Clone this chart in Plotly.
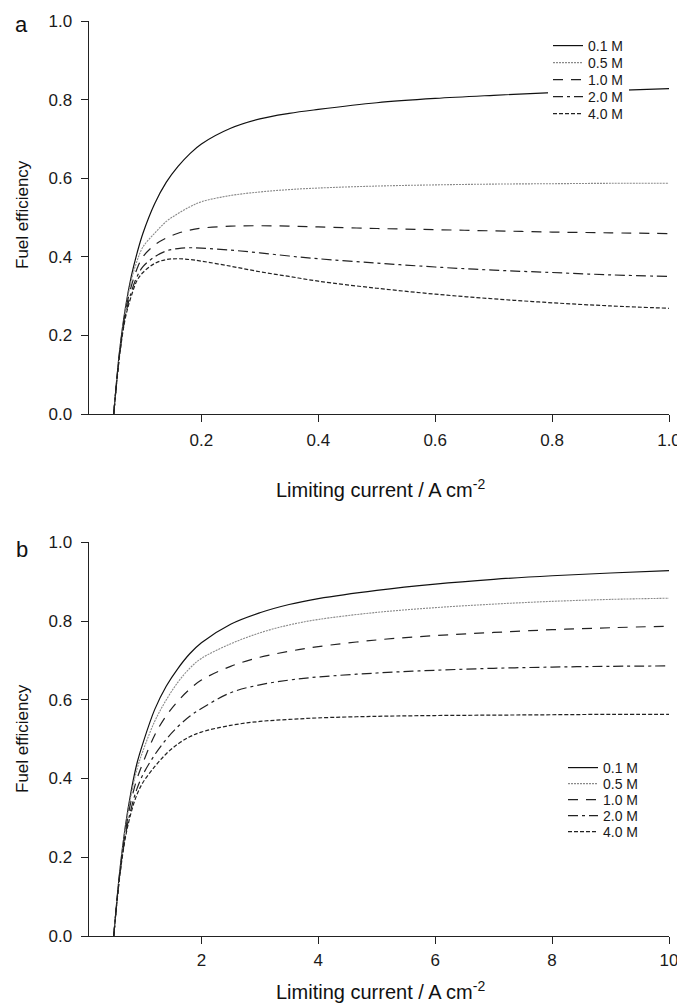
import plotly.graph_objects as go

W, H = 677, 1007

series_names = ["0.1 M", "0.5 M", "1.0 M", "2.0 M", "4.0 M"]

# Panel a
xa = [0.05, 0.06, 0.07, 0.08, 0.09, 0.10, 0.12, 0.14, 0.16, 0.18, 0.20, 0.25, 0.30,
      0.35, 0.40, 0.50, 0.60, 0.70, 0.80, 0.90, 1.00]
ya_01 = [0, 0.16, 0.27, 0.35, 0.41, 0.46, 0.535, 0.59, 0.63, 0.662, 0.687, 0.727, 0.751,
         0.765, 0.775, 0.792, 0.803, 0.811, 0.818, 0.823, 0.828]
ya_05 = [0, 0.16, 0.265, 0.34, 0.39, 0.425, 0.46, 0.49, 0.51, 0.527, 0.54, 0.556, 0.565,
         0.571, 0.575, 0.58, 0.583, 0.585, 0.586, 0.587, 0.587]
ya_10 = [0, 0.155, 0.26, 0.325, 0.37, 0.40, 0.43, 0.448, 0.46, 0.468, 0.473, 0.478, 0.479,
         0.478, 0.476, 0.472, 0.469, 0.466, 0.463, 0.461, 0.459]
ya_20 = [0, 0.15, 0.25, 0.31, 0.35, 0.375, 0.40, 0.415, 0.421, 0.423, 0.422, 0.417, 0.41,
         0.402, 0.395, 0.384, 0.374, 0.366, 0.36, 0.354, 0.35]
ya_40 = [0, 0.148, 0.245, 0.30, 0.34, 0.36, 0.383, 0.393, 0.395, 0.393, 0.389, 0.376, 0.362,
         0.35, 0.338, 0.32, 0.305, 0.293, 0.283, 0.275, 0.269]

# Panel b
xb = [0.5, 0.6, 0.7, 0.8, 0.9, 1.0, 1.2, 1.4, 1.6, 1.8, 2.0, 2.5, 3.0, 3.5, 4.0, 5.0,
      6.0, 7.0, 8.0, 9.0, 10.0]
yb_01 = [0, 0.16, 0.28, 0.37, 0.44, 0.49, 0.575, 0.635, 0.68, 0.717, 0.745, 0.792, 0.821,
         0.842, 0.857, 0.878, 0.894, 0.906, 0.915, 0.922, 0.928]
yb_05 = [0, 0.16, 0.275, 0.36, 0.425, 0.47, 0.545, 0.60, 0.645, 0.68, 0.705, 0.742, 0.77,
         0.79, 0.804, 0.822, 0.834, 0.843, 0.85, 0.855, 0.858]
yb_10 = [0, 0.155, 0.265, 0.345, 0.40, 0.44, 0.51, 0.56, 0.597, 0.627, 0.65, 0.685, 0.708,
         0.723, 0.735, 0.752, 0.763, 0.771, 0.778, 0.783, 0.787]
yb_20 = [0, 0.15, 0.255, 0.325, 0.375, 0.41, 0.46, 0.50, 0.532, 0.558, 0.578, 0.618, 0.638,
         0.65, 0.658, 0.668, 0.675, 0.68, 0.683, 0.685, 0.686]
yb_40 = [0, 0.148, 0.25, 0.315, 0.36, 0.39, 0.43, 0.463, 0.488, 0.506, 0.518, 0.535, 0.545,
         0.55, 0.554, 0.558, 0.56, 0.561, 0.562, 0.563, 0.563]

xa_ticks = [0.2, 0.4, 0.6, 0.8, 1.0]
xa_ticktext = ["0.2", "0.4", "0.6", "0.8", "1.0"]
xb_ticks = [2, 4, 6, 8, 10]
xb_ticktext = ["2", "4", "6", "8", "10"]
y_ticks = [0.0, 0.2, 0.4, 0.6, 0.8, 1.0]
y_ticktext = ["0.0", "0.2", "0.4", "0.6", "0.8", "1.0"]

styles = [
    dict(color="#111111", width=1.2, dash="solid"),
    dict(color="#8a8a8a", width=1.1, dash="2px,1px"),
    dict(color="#222222", width=1.2, dash="10px,8px"),
    dict(color="#222222", width=1.2, dash="10px,4px,3px,4px"),
    dict(color="#222222", width=1.2, dash="4px,2px"),
]

FONT = "Liberation Sans, Arial, sans-serif"

# legend row positions (pixels from top) and left edges
legend_a_rows = [46, 63, 80, 97, 114]
legend_b_rows = [768, 784, 800, 816, 832]
legend_a_left = 548
legend_b_left = 563
# the panel-a legend row whose white box masks the 0.1 M curve (drawn first, underneath the others)
masking_row = 3


def px_x(p):
    return p / W


def px_y(p):
    return 1 - p / H


fig = go.Figure()
legends = {}
k = 2
for panel, (xs, ys_list, xax, yax, rows, left) in enumerate([
        (xa, [ya_01, ya_05, ya_10, ya_20, ya_40], "x", "y", legend_a_rows, legend_a_left),
        (xb, [yb_01, yb_05, yb_10, yb_20, yb_40], "x2", "y2", legend_b_rows, legend_b_left)]):
    for i, (name, ys, st, row) in enumerate(zip(series_names, ys_list, styles, rows)):
        if panel == 0 and i == masking_row:
            lname, bg = "legend", "white"
        else:
            lname, bg = f"legend{k}", "rgba(255,255,255,0)"
            k += 1
        fig.add_trace(go.Scatter(x=xs, y=ys, mode="lines", name=name,
                                 line=dict(shape="spline", **st),
                                 xaxis=xax, yaxis=yax, legend=lname))
        legends[lname] = dict(x=px_x(left), y=px_y(row), xanchor="left", yanchor="middle",
                              font=dict(family=FONT, size=14, color="#1a1a1a"),
                              bgcolor=bg, borderwidth=0)

ax_common = dict(showline=True, linecolor="#222", linewidth=1, ticks="outside", ticklen=7,
                 tickcolor="#222", tickwidth=1, showgrid=False, zeroline=False,
                 ticklabeloverflow="allow",
                 tickfont=dict(family=FONT, size=17, color="#1a1a1a"))

xdom = [px_x(88.6), px_x(669)]
fig.update_layout(
    width=W, height=H, margin=dict(l=0, r=0, t=0, b=0, autoexpand=False),
    paper_bgcolor="white", plot_bgcolor="white",
    font=dict(family=FONT, color="#1a1a1a"),
    xaxis=dict(domain=xdom, range=[0.007, 1.0], tickvals=xa_ticks, ticktext=xa_ticktext,
               anchor="y", ticklabelstandoff=4, **ax_common),
    yaxis=dict(domain=[px_y(414), px_y(21)], range=[0, 1.0], tickvals=y_ticks, ticktext=y_ticktext,
               anchor="x", ticklabelstandoff=5, **ax_common),
    xaxis2=dict(domain=xdom, range=[0.07, 10.0], tickvals=xb_ticks, ticktext=xb_ticktext,
                anchor="y2", ticklabelstandoff=2, **ax_common),
    yaxis2=dict(domain=[px_y(936), px_y(542.3)], range=[0, 1.0], tickvals=y_ticks, ticktext=y_ticktext,
                anchor="x2", ticklabelstandoff=5, **ax_common),
    showlegend=True,
    **legends,
)

title_x = "Limiting current / A cm<sup>-2</sup>"
common_ann = dict(xref="paper", yref="paper", showarrow=False, xanchor="center", yanchor="middle")
ann = [
    dict(text="a", x=px_x(22), y=px_y(24), font=dict(family=FONT, size=22, color="#111"), **common_ann),
    dict(text="b", x=px_x(22), y=px_y(549), font=dict(family=FONT, size=22, color="#111"), **common_ann),
    dict(text="Fuel efficiency", x=px_x(22), y=px_y(215), textangle=-90,
         font=dict(family=FONT, size=17, color="#111"), **common_ann),
    dict(text="Fuel efficiency", x=px_x(22), y=px_y(739), textangle=-90,
         font=dict(family=FONT, size=17, color="#111"), **common_ann),
    dict(text=title_x, x=px_x(381), y=px_y(488), font=dict(family=FONT, size=20, color="#111"), **common_ann),
    dict(text=title_x, x=px_x(381), y=px_y(990), font=dict(family=FONT, size=20, color="#111"), **common_ann),
]
fig.update_layout(annotations=ann)

fig.write_html("out.html")
